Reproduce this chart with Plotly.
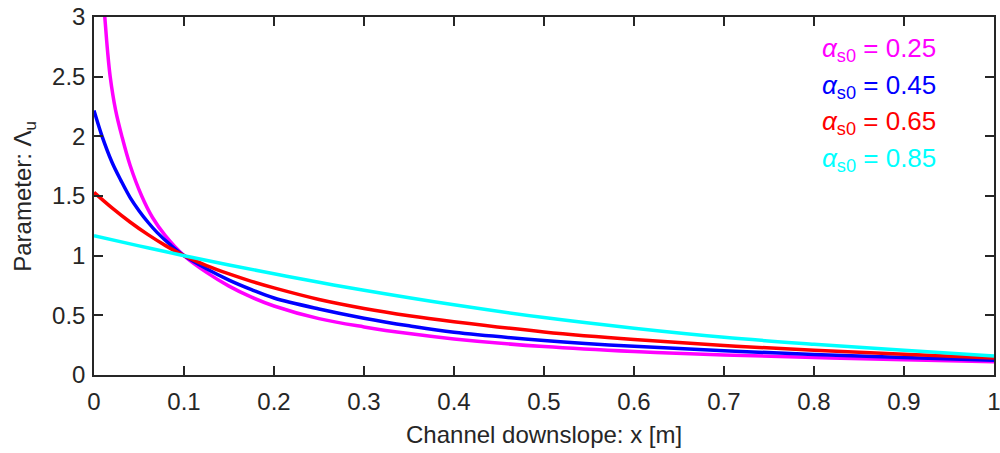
import plotly.graph_objects as go

# Readings from the reference picture
alpha_labels = ["0.25", "0.45", "0.65", "0.85"]
colors = ["#FF00FF", "#0000FF", "#FF0000", "#00FFFF"]

x_mag = [0.010, 0.012, 0.015, 0.018, 0.024, 0.031, 0.040, 0.053, 0.065, 0.079, 0.1,
         0.125, 0.15, 0.175, 0.2, 0.25, 0.3, 0.35, 0.4, 0.5, 0.6, 0.7, 0.8, 0.9, 1.0]
y_mag = [3.2, 3.0, 2.72, 2.5, 2.22, 2.0, 1.76, 1.5, 1.32, 1.17, 1.0,
         0.86, 0.745, 0.652, 0.578, 0.472, 0.403, 0.347, 0.302, 0.238, 0.196, 0.168, 0.147, 0.127, 0.11]

x_blue = [0.0, 0.009, 0.02, 0.03, 0.04, 0.05, 0.06, 0.07, 0.085, 0.1,
          0.125, 0.15, 0.175, 0.2, 0.25, 0.3, 0.35, 0.4, 0.5, 0.6, 0.7, 0.8, 0.9, 1.0]
y_blue = [2.217, 2.0, 1.783, 1.629, 1.489, 1.377, 1.28, 1.195, 1.09, 1.0,
          0.89, 0.795, 0.715, 0.645, 0.553, 0.476, 0.412, 0.358, 0.29, 0.24, 0.203, 0.172, 0.146, 0.124]

x_red = [0.0, 0.02, 0.04, 0.06, 0.08, 0.1, 0.125, 0.15, 0.175, 0.2, 0.25, 0.3, 0.35, 0.4,
         0.5, 0.6, 0.7, 0.8, 0.9, 1.0]
y_red = [1.53, 1.40, 1.282, 1.176, 1.082, 1.0, 0.917, 0.847, 0.785, 0.73, 0.633, 0.558, 0.497, 0.447,
         0.361, 0.297, 0.247, 0.208, 0.174, 0.142]

x_cyan = [0.0, 0.05, 0.1, 0.15, 0.2, 0.25, 0.3, 0.4, 0.5, 0.6, 0.7, 0.8, 0.9, 1.0]
y_cyan = [1.167, 1.082, 1.0, 0.922, 0.848, 0.777, 0.71, 0.588, 0.481, 0.392, 0.316, 0.258, 0.207, 0.16]

x_title = "Channel downslope: x [m]"
y_title = "Parameter: Λ<sub>u</sub>"

series = [(x_mag, y_mag), (x_blue, y_blue), (x_red, y_red), (x_cyan, y_cyan)]

FONT = "Liberation Sans, Arial, Helvetica, sans-serif"
AX = "#262626"
FS = 24

fig = go.Figure()
for (xs, ys), c in zip(series, colors):
    fig.add_trace(go.Scatter(x=xs, y=ys, mode="lines",
                             line=dict(color=c, width=3.5, shape="spline", smoothing=1.0),
                             showlegend=False, hoverinfo="skip"))

ann_y = [0.908, 0.806, 0.704, 0.602]
for lab, c, yy in zip(alpha_labels, colors, ann_y):
    fig.add_annotation(xref="paper", yref="paper", x=0.807, y=yy,
                       xanchor="left", yanchor="middle", showarrow=False,
                       text="<i>α</i><sub>s0</sub> = " + lab,
                       font=dict(family=FONT, size=26, color=c))

fig.add_annotation(xref="paper", yref="paper", x=0.5, y=-0.165, xanchor="center", yanchor="middle",
                   showarrow=False, text=x_title, font=dict(family=FONT, size=FS, color=AX))
fig.add_annotation(xref="paper", yref="paper", x=-0.078, y=0.5, xanchor="center", yanchor="middle",
                   showarrow=False, textangle=-90, text=y_title, font=dict(family=FONT, size=FS, color=AX))

axis_common = dict(showline=True, linecolor=AX, linewidth=1.5, mirror="allticks",
                   ticks="inside", ticklen=9, tickwidth=1.5, tickcolor=AX,
                   showgrid=False, zeroline=False, automargin=False,
                   ticklabeloverflow="allow",
                   tickfont=dict(family=FONT, size=FS, color=AX))

fig.update_xaxes(range=[0, 1], dtick=0.1, tick0=0, ticklabelstandoff=4, **axis_common)
fig.update_yaxes(range=[0, 3], dtick=0.5, tick0=0, ticklabelstandoff=2, **axis_common)

fig.update_layout(width=1000, height=453, plot_bgcolor="white", paper_bgcolor="white",
                  margin=dict(l=94, r=6, t=17, b=78))

fig.write_html("out.html", config={"displayModeBar": False},
               post_script="document.body.style.margin='0';document.body.style.overflow='hidden';")
